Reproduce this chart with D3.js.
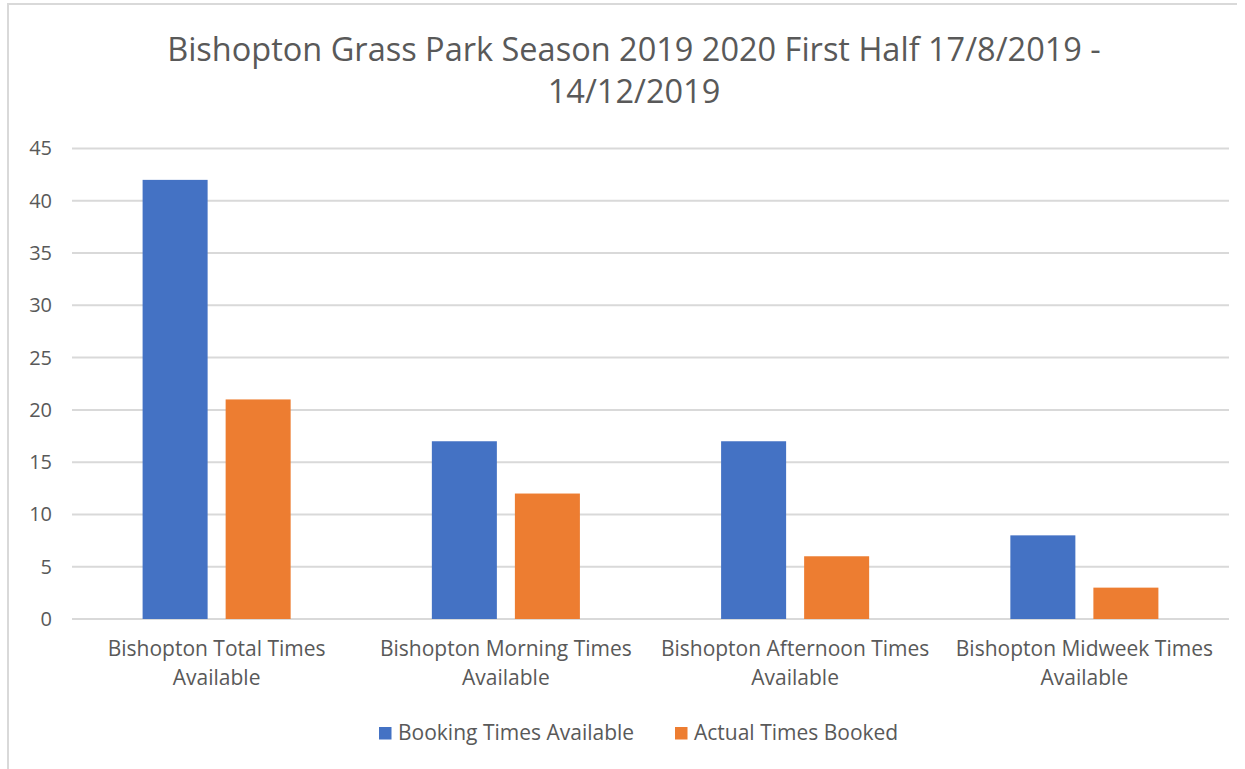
<!DOCTYPE html>
<html>
<head>
<meta charset="utf-8">
<script src="https://cdn.jsdelivr.net/npm/d3@7"></script>
<style>
  body { margin: 0; background: #fff; }
  svg { display: block; }
</style>
</head>
<body>
<script>
const categories = [
  ["Bishopton Total Times", "Available"],
  ["Bishopton Morning Times", "Available"],
  ["Bishopton Afternoon Times", "Available"],
  ["Bishopton Midweek Times", "Available"]
]
const seriesNames = ["Booking Times Available", "Actual Times Booked"]
const bookingAvailable = [42, 17, 17, 8]
const actualBooked = [21, 12, 6, 3]
const yTicks = [0, 5, 10, 15, 20, 25, 30, 35, 40, 45]
const titleLines = ["Bishopton Grass Park Season 2019 2020 First Half 17/8/2019 -", "14/12/2019"]

const colors = ["#4472c4", "#ed7d31"]
const textColor = "#595959"
const gridColor = "#d9d9d9"
const font = "'Open Sans', Lato, sans-serif"

const width = 1245
const height = 769
const margin = { top: 148, right: 16, bottom: 150, left: 72 }

const svg = d3.select("body").append("svg")
  .attr("width", width)
  .attr("height", height)

// chart area outline (only top and left edge show in the reference)
svg.append("path")
  .attr("d", "M8,769 V4 H1237")
  .attr("fill", "none")
  .attr("stroke", gridColor)
  .attr("stroke-width", 2)

// title
svg.append("g")
  .selectAll("text")
  .data(titleLines)
  .enter()
  .append("text")
  .attr("x", 634)
  .attr("y", (d, i) => 61 + i * 42)
  .attr("text-anchor", "middle")
  .style("font-family", font)
  .style("font-size", "32.5px")
  .style("fill", textColor)
  .text(d => d)

const x0 = d3.scaleBand()
  .domain(d3.range(categories.length))
  .range([margin.left, width - margin.right])
  .paddingInner(0)

const inner = 70.6
const x1 = d3.scaleBand()
  .domain(d3.range(seriesNames.length))
  .range([inner, x0.bandwidth() - inner])
  .paddingInner(0.217)

const y = d3.scaleLinear()
  .domain([0, 45])
  .range([619, 148.5])

// gridlines
svg.append("g")
  .selectAll("line")
  .data(yTicks)
  .enter()
  .append("line")
  .attr("x1", margin.left)
  .attr("x2", width - margin.right)
  .attr("y1", d => y(d))
  .attr("y2", d => y(d))
  .attr("stroke", gridColor)
  .attr("stroke-width", 2)

// y axis labels
const yAxis = svg.append("g")
  .attr("transform", `translate(${margin.left - 20},0)`)
  .call(d3.axisLeft(y).tickValues(yTicks).tickSize(0).tickPadding(0))
yAxis.select(".domain").remove()
yAxis.selectAll("text")
  .style("font-family", font)
  .style("font-size", "20px")
  .style("fill", textColor)

// bars
const values = [bookingAvailable, actualBooked]
const groups = svg.append("g")
  .selectAll("g")
  .data(categories.map((c, i) => values.map((v, s) => ({ cat: i, s, v: v[i] }))))
  .enter()
  .append("g")
  .attr("transform", (d, i) => `translate(${x0(i)},0)`)

groups.selectAll("rect")
  .data(d => d)
  .enter()
  .append("rect")
  .attr("x", d => x1(d.s))
  .attr("width", x1.bandwidth())
  .attr("y", d => y(d.v))
  .attr("height", d => y(0) - y(d.v))
  .attr("fill", d => colors[d.s])

// category labels
const catLabels = svg.append("g")
  .selectAll("text")
  .data(categories)
  .enter()
  .append("text")
  .attr("text-anchor", "middle")
  .style("font-family", font)
  .style("font-size", "21px")
  .style("fill", textColor)

catLabels.selectAll("tspan")
  .data((d, i) => d.map(t => ({ t, i })))
  .enter()
  .append("tspan")
  .attr("x", d => x0(d.i) + x0.bandwidth() / 2)
  .attr("y", (d, j) => 656 + j * 29)
  .text(d => d.t)

// legend
const legendX = [379, 675]
const legend = svg.append("g")
  .selectAll("g")
  .data(seriesNames)
  .enter()
  .append("g")
  .attr("transform", (d, i) => `translate(${legendX[i]},727)`)

legend.append("rect")
  .attr("width", 12.5)
  .attr("height", 12.5)
  .attr("fill", (d, i) => colors[i])

legend.append("text")
  .attr("x", 19)
  .attr("y", 12.5)
  .style("font-family", font)
  .style("font-size", "21px")
  .style("fill", textColor)
  .text(d => d)
</script>
</body>
</html>
